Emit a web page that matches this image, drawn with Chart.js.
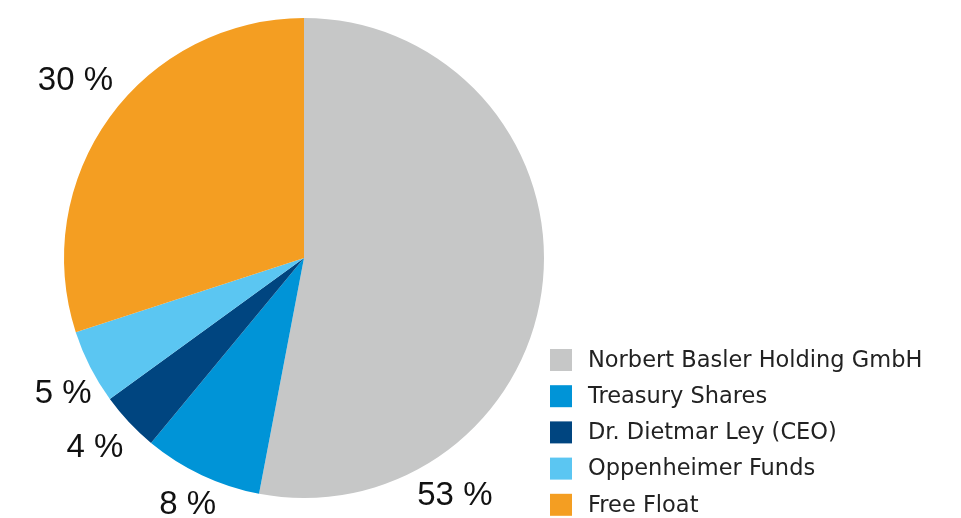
<!DOCTYPE html>
<html>
<head>
<meta charset="utf-8">
<script src="https://cdn.jsdelivr.net/npm/chart.js@4.4.1/dist/chart.umd.min.js"></script>
<style>
html,body{margin:0;padding:0;background:#fff;}
#wrap{width:961px;height:518px;}
</style>
</head>
<body>
<div id="wrap"><canvas id="c" width="961" height="518"></canvas></div>
<script>
const categories = ["Norbert Basler Holding GmbH", "Treasury Shares", "Dr. Dietmar Ley (CEO)", "Oppenheimer Funds", "Free Float"];
const shares = [53, 8, 4, 5, 30];
const valueLabels = ["53 %", "8 %", "4 %", "5 %", "30 %"];
const sliceColors = ["#c6c7c7", "#0094d7", "#004580", "#5bc6f2", "#f49e22"];

// label placement: angle (deg, clockwise from 12 o'clock) and distance in radius units
const labelPlacement = [
  {angle: 147.5, dist: 1.17},
  {angle: 205.3, dist: 1.135},
  {angle: 227.9, dist: 1.174},
  {angle: 240.7, dist: 1.151},
  {angle: 307.9, dist: 1.207}
];

const labelPlugin = {
  id: 'pieLabels',
  afterDraw(chart) {
    const ctx = chart.ctx;
    const meta = chart.getDatasetMeta(0);
    ctx.save();
    ctx.font = '33px "Liberation Sans", Arial, sans-serif';
    ctx.fillStyle = '#111';
    ctx.textAlign = 'center';
    ctx.textBaseline = 'middle';
    meta.data.forEach((arc, i) => {
      const p = labelPlacement[i];
      const a = p.angle * Math.PI / 180;
      const r = arc.outerRadius * p.dist;
      const x = arc.x + Math.sin(a) * r;
      const y = arc.y - Math.cos(a) * r;
      ctx.fillText(valueLabels[i], x, y + 1);
    });
    // legend
    const lx = 550, ly = 349, box = 22, gap = 36.2;
    ctx.textAlign = 'left';
    ctx.font = '22.5px "DejaVu Sans", sans-serif';
    chart.data.labels.forEach((lab, i) => {
      const y = ly + i * gap;
      ctx.fillStyle = chart.data.datasets[0].backgroundColor[i];
      ctx.fillRect(lx, y, box, box);
      ctx.fillStyle = '#222';
      ctx.fillText(lab, lx + 38, y + box / 2 + 1);
    });
    ctx.restore();
  }
};

new Chart(document.getElementById('c'), {
  type: 'pie',
  data: {
    labels: categories,
    datasets: [{
      data: shares,
      backgroundColor: sliceColors,
      borderWidth: 0
    }]
  },
  options: {
    responsive: false,
    animation: false,
    layout: {padding: {left: 64, right: 417, top: 18, bottom: 20}},
    plugins: {
      legend: {display: false},
      tooltip: {enabled: false}
    }
  },
  plugins: [labelPlugin]
});
</script>
</body>
</html>
